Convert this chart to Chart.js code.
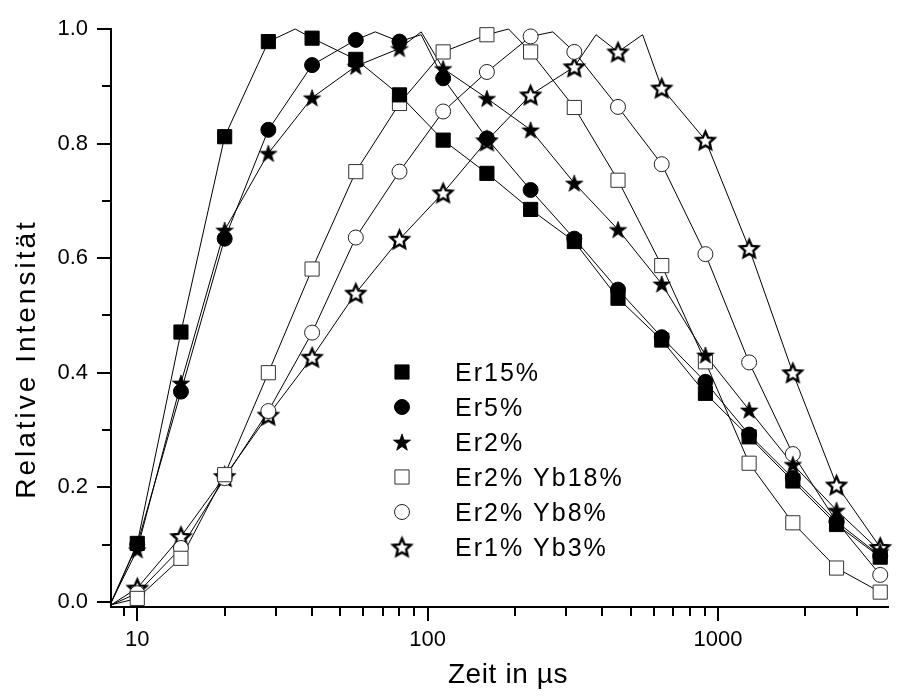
<!DOCTYPE html>
<html>
<head>
<meta charset="utf-8">
<script src="https://cdn.jsdelivr.net/npm/chart.js@4.4.1/dist/chart.umd.min.js"></script>
<style>
  html, body { margin: 0; padding: 0; background: #fff; }
</style>
</head>
<body>
<canvas id="myChart" width="899" height="696"></canvas>
<script>
/* globals Chart:false */
(() => {
  'use strict';

  // Zeitpunkte der Symbole (µs)
  const zeit = [10, 14.14, 20, 28.28, 40, 56.57, 80, 113.1, 160, 226.3, 320, 452.5, 640, 905, 1280, 1810, 2560, 3620];

  const er15 = [0.102, 0.471, 0.812, 0.978, 0.984, 0.947, 0.885, 0.806, 0.748, 0.685, 0.629, 0.530, 0.457, 0.364, 0.288, 0.211, 0.135, 0.078];
  const er5 = [0.100, 0.367, 0.634, 0.824, 0.937, 0.981, 0.978, 0.914, 0.809, 0.719, 0.634, 0.545, 0.462, 0.384, 0.292, 0.216, 0.140, 0.080];
  const er2 = [0.091, 0.382, 0.649, 0.783, 0.880, 0.935, 0.966, 0.931, 0.879, 0.824, 0.731, 0.650, 0.555, 0.431, 0.335, 0.240, 0.160, 0.088];
  const er2yb18 = [0.006, 0.076, 0.222, 0.400, 0.581, 0.751, 0.870, 0.960, 0.990, 0.960, 0.863, 0.736, 0.587, 0.419, 0.242, 0.138, 0.059, 0.017];
  const er2yb8 = [0.015, 0.094, 0.216, 0.333, 0.470, 0.636, 0.751, 0.856, 0.925, 0.987, 0.960, 0.864, 0.764, 0.607, 0.418, 0.258, 0.140, 0.047];
  const er1yb3 = [0.024, 0.114, 0.219, 0.326, 0.427, 0.539, 0.633, 0.714, 0.805, 0.885, 0.934, 0.960, 0.897, 0.806, 0.617, 0.400, 0.204, 0.095];

  const er15Extra = [[8.15, 0.0], [35, 1.0]];
  const er5Extra = [[8.15, 0.0], [66, 0.995], [95, 0.99]];
  const er2Extra = [[8.15, 0.0], [95, 0.995]];
  const er2yb18Extra = [[8.15, -0.005], [190, 1.0]];
  const er2yb8Extra = [[8.15, -0.005], [270, 0.995]];
  const er1yb3Extra = [[8.15, -0.005], [380, 0.99], [550, 0.99]];

  const names = ['Er15%', 'Er5%', 'Er2%', 'Er2% Yb18%', 'Er2% Yb8%', 'Er1% Yb3%'];

  const yMajor = [0.0, 0.2, 0.4, 0.6, 0.8, 1.0];
  const yMinor = [0.1, 0.3, 0.5, 0.7, 0.9];
  const xMajor = [10, 100, 1000];
  const xMinor = [9, 20, 30, 40, 50, 60, 70, 80, 90, 200, 300, 400, 500, 600, 700, 800, 900, 2000, 3000];

  const FONT = '"Liberation Sans", Arial, sans-serif';

  function makeStar(outer, inner, fill, lw) {
    const c = document.createElement('canvas');
    const s = Math.ceil(outer * 2 + lw + 3);
    c.width = s;
    c.height = s;
    const g = c.getContext('2d');
    g.translate(s / 2, s / 2 + outer * 0.1);
    g.beginPath();
    for (let i = 0; i < 10; i++) {
      const r = i % 2 === 0 ? outer : inner;
      const a = -Math.PI / 2 + i * Math.PI / 5;
      g.lineTo(r * Math.cos(a), r * Math.sin(a));
    }
    g.closePath();
    g.fillStyle = fill;
    g.fill();
    if (lw > 0) {
      g.lineJoin = 'miter';
      g.lineWidth = lw;
      g.strokeStyle = '#000';
      g.stroke();
    }
    return c;
  }

  const starFilled = makeStar(9, 3.6, '#000', 0.8);
  const starOpen = makeStar(9.5, 4.4, '#fff', 2.4);

  const styles = [
    { pointStyle: 'rect', radius: 10, bg: '#000', border: '#000', bw: 1 },
    { pointStyle: 'circle', radius: 7.5, bg: '#000', border: '#000', bw: 1 },
    { pointStyle: starFilled, radius: 8, bg: '#000', border: '#000', bw: 0 },
    { pointStyle: 'rect', radius: 10, bg: '#fff', border: '#333', bw: 1 },
    { pointStyle: 'circle', radius: 7.5, bg: '#fff', border: '#222', bw: 1 },
    { pointStyle: starOpen, radius: 8, bg: '#fff', border: '#000', bw: 0 }
  ];

  const values = [er15, er5, er2, er2yb18, er2yb8, er1yb3];
  const extras = [er15Extra, er5Extra, er2Extra, er2yb18Extra, er2yb8Extra, er1yb3Extra];

  function linePoints(vals, extra) {
    const pts = zeit.map((x, i) => ({ x: x, y: vals[i] }));
    extra.forEach(([x, y]) => pts.push({ x: x, y: y }));
    return pts.sort((a, b) => a.x - b.x);
  }

  const markerSets = names.map((name, i) => ({
    label: name,
    data: zeit.map((x, k) => ({ x: x, y: values[i][k] })),
    showLine: false,
    pointStyle: styles[i].pointStyle,
    pointRadius: styles[i].radius,
    pointBackgroundColor: styles[i].bg,
    pointBorderColor: styles[i].border,
    pointBorderWidth: styles[i].bw,
    order: 0,
    clip: 12
  }));

  const lineSets = names.map((name, i) => ({
    label: name + ' Kurve',
    data: linePoints(values[i], extras[i]),
    showLine: true,
    borderColor: '#000',
    borderWidth: 1,
    tension: 0,
    pointRadius: 0,
    order: 1,
    clip: 4
  }));

  const extraDraw = {
    id: 'extraDraw',
    afterDraw(chart) {
      const { ctx, chartArea: a, scales } = chart;
      const x = scales.x;
      const y = scales.y;
      ctx.save();

      // Teilstriche
      ctx.strokeStyle = '#000';
      ctx.lineWidth = 2;
      ctx.beginPath();
      yMajor.forEach(v => {
        const py = Math.round(y.getPixelForValue(v));
        ctx.moveTo(a.left - 14, py);
        ctx.lineTo(a.left, py);
      });
      yMinor.forEach(v => {
        const py = Math.round(y.getPixelForValue(v));
        ctx.moveTo(a.left - 9, py);
        ctx.lineTo(a.left, py);
      });
      xMajor.forEach(v => {
        const px = Math.round(x.getPixelForValue(v));
        ctx.moveTo(px, a.bottom);
        ctx.lineTo(px, a.bottom + 14);
      });
      xMinor.forEach(v => {
        const px = Math.round(x.getPixelForValue(v));
        ctx.moveTo(px, a.bottom);
        ctx.lineTo(px, a.bottom + 9);
      });
      ctx.stroke();

      // Legende im Diagramm
      ctx.fillStyle = '#000';
      ctx.font = '25px ' + FONT;
      ctx.textAlign = 'left';
      ctx.textBaseline = 'alphabetic';
      ctx.letterSpacing = '2px';
      names.forEach((name, i) => {
        const rowY = 372 + i * 35;
        const st = styles[i];
        ctx.fillStyle = st.bg;
        ctx.strokeStyle = st.border;
        ctx.lineWidth = st.bw;
        Chart.helpers.drawPoint(ctx, {
          pointStyle: st.pointStyle,
          radius: st.radius,
          rotation: 0,
          borderWidth: st.bw
        }, 402, rowY);
        ctx.fillStyle = '#000';
        ctx.fillText(name, 455, rowY + 9);
      });

      // Achsentitel
      ctx.font = '28px ' + FONT;
      ctx.textAlign = 'center';
      ctx.letterSpacing = '0.6px';
      ctx.fillText('Zeit in µs', 508, 683);
      ctx.save();
      ctx.translate(35, 359);
      ctx.rotate(-Math.PI / 2);
      ctx.letterSpacing = '3px';
      ctx.fillText('Relative Intensität', 0, 0);
      ctx.restore();

      ctx.restore();
    }
  };

  const ctx1 = document.getElementById('myChart');
  const myChart = new Chart(ctx1, {
    type: 'scatter',
    data: {
      datasets: markerSets.concat(lineSets)
    },
    options: {
      responsive: false,
      animation: false,
      events: [],
      layout: {
        padding: { top: 29, right: 0, left: 0, bottom: 0 }
      },
      plugins: {
        legend: { display: false },
        tooltip: { enabled: false }
      },
      scales: {
        x: {
          type: 'logarithmic',
          min: 8.12,
          max: 3850,
          afterBuildTicks: scale => {
            scale.ticks = xMajor.map(v => ({ value: v }));
          },
          afterFit: scale => {
            scale.height = 89;
            scale.paddingLeft = 0;
            scale.paddingRight = 0;
          },
          grid: { display: false, drawTicks: false },
          border: { display: true, color: '#000', width: 2 },
          ticks: {
            color: '#000',
            font: { family: FONT, size: 22 },
            padding: 20,
            maxRotation: 0,
            autoSkip: false,
            callback: v => String(v)
          }
        },
        y: {
          type: 'linear',
          min: -0.009,
          max: 1.0,
          afterBuildTicks: scale => {
            scale.ticks = yMajor.map(v => ({ value: v }));
          },
          afterFit: scale => {
            scale.width = 111;
            scale.paddingTop = 0;
            scale.paddingBottom = 0;
          },
          grid: { display: false, drawTicks: false },
          border: { display: true, color: '#000', width: 2 },
          ticks: {
            color: '#000',
            font: { family: FONT, size: 22 },
            padding: 23,
            autoSkip: false,
            callback: v => v.toFixed(1)
          }
        }
      }
    },
    plugins: [extraDraw]
  });
})();
</script>
</body>
</html>
